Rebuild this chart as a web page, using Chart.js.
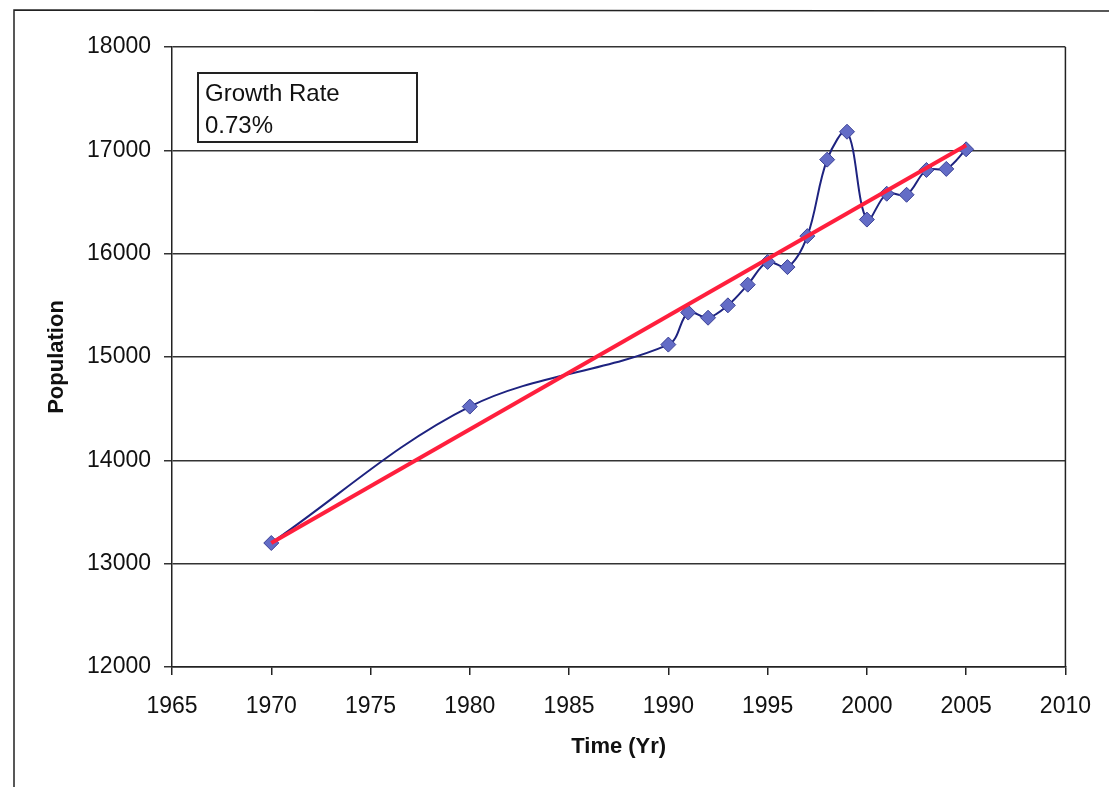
<!DOCTYPE html>
<html>
<head>
<meta charset="utf-8">
<title>Population</title>
<script src="https://cdn.jsdelivr.net/npm/chart.js@4.4.1/dist/chart.umd.min.js"></script>
<style>
  html, body { margin: 0; padding: 0; background: #fff; }
  #wrap { width: 1109px; height: 787px; position: relative; }
</style>
</head>
<body>
<div id="wrap"><canvas id="chart-population" width="1109" height="787"></canvas></div>
<script>
// Poblacion observada por año
const years = [1970, 1980, 1990, 1991, 1992, 1993, 1994, 1995, 1996, 1997, 1998, 1999, 2000, 2001, 2002, 2003, 2004, 2005];
const population = [13200, 14520, 15120, 15430, 15380, 15500, 15700, 15920, 15870, 16170, 16910, 17180, 16330, 16580, 16570, 16810, 16820, 17010];

// Linea de tendencia (extremos)
const trendYears = [1970, 2005];
const trendPopulation = [13200, 17050];

const growthLabel = ['Growth Rate', '0.73%'];

const FONT = "'Liberation Sans', Arial, sans-serif";

// Marco exterior, borde del area y recuadro de la tasa
const framePlugin = {
  id: 'frame',
  beforeDraw(chart) {
    const ctx = chart.ctx;
    ctx.save();
    ctx.strokeStyle = '#222';
    ctx.lineWidth = 1.5;
    ctx.beginPath();
    ctx.moveTo(14, 787);
    ctx.lineTo(14, 10);
    ctx.lineTo(1109, 11);
    ctx.stroke();
    ctx.restore();
  },
  beforeDatasetsDraw(chart) {
    const { ctx, chartArea: a } = chart;
    ctx.save();
    ctx.strokeStyle = '#222';
    ctx.lineWidth = 1.5;
    ctx.beginPath();
    ctx.moveTo(a.right, a.top);
    ctx.lineTo(a.right, a.bottom);
    ctx.stroke();

    // recuadro "Growth Rate"
    ctx.fillStyle = '#fff';
    ctx.fillRect(198, 73, 219, 69);
    ctx.lineWidth = 2;
    ctx.strokeRect(198, 73, 219, 69);
    ctx.fillStyle = '#111';
    ctx.font = '24px ' + FONT;
    ctx.textBaseline = 'middle';
    ctx.fillText(growthLabel[0], 205, 94);
    ctx.fillText(growthLabel[1], 205, 126);
    ctx.restore();
  }
};

const ctx = document.getElementById('chart-population');
new Chart(ctx, {
  type: 'line',
  data: {
    datasets: [
      {
        label: 'Population',
        data: years.map((y, i) => ({ x: y, y: population[i] })),
        borderColor: '#1e2380',
        borderWidth: 2,
        tension: 0.35,
        pointStyle: 'rectRot',
        pointRadius: 7.5,
        pointBackgroundColor: '#636cc6',
        pointBorderColor: '#3b4196',
        pointBorderWidth: 1,
        order: 1
      },
      {
        label: 'Trend',
        data: trendYears.map((y, i) => ({ x: y, y: trendPopulation[i] })),
        borderColor: '#ff1f3d',
        borderWidth: 4,
        pointRadius: 0,
        tension: 0,
        order: 0
      }
    ]
  },
  options: {
    responsive: false,
    animation: false,
    devicePixelRatio: 1,
    layout: { padding: { left: 0, right: 41, top: 47, bottom: 0 } },
    plugins: {
      legend: { display: false },
      tooltip: { enabled: false }
    },
    scales: {
      x: {
        type: 'linear',
        min: 1965,
        max: 2010,
        ticks: {
          stepSize: 5,
          color: '#111',
          font: { family: FONT, size: 23 },
          padding: 18,
          maxRotation: 0,
          callback: v => String(v)
        },
        grid: { drawOnChartArea: false, drawTicks: true, tickLength: 8, color: '#222', lineWidth: 1.5 },
        border: { display: true, color: '#222', width: 1.5 },
        title: {
          display: true,
          text: 'Time (Yr)',
          color: '#111',
          font: { family: FONT, size: 22, weight: 'bold' },
          padding: { top: 0, bottom: 27 }
        },
        afterFit(scale) { scale.height = 120; }
      },
      y: {
        min: 12000,
        max: 18000,
        ticks: {
          stepSize: 1000,
          color: '#111',
          font: { family: FONT, size: 23 },
          padding: 13,
          callback: v => String(v)
        },
        grid: { color: '#333', lineWidth: 1.5, tickLength: 8, drawTicks: true },
        border: { display: true, color: '#222', width: 1.5 },
        title: {
          display: true,
          text: 'Population',
          color: '#111',
          font: { family: FONT, size: 22, weight: 'bold' },
          padding: { top: 44, bottom: 0 }
        },
        afterFit(scale) { scale.width = 172; }
      }
    }
  },
  plugins: [framePlugin]
});
</script>
</body>
</html>
